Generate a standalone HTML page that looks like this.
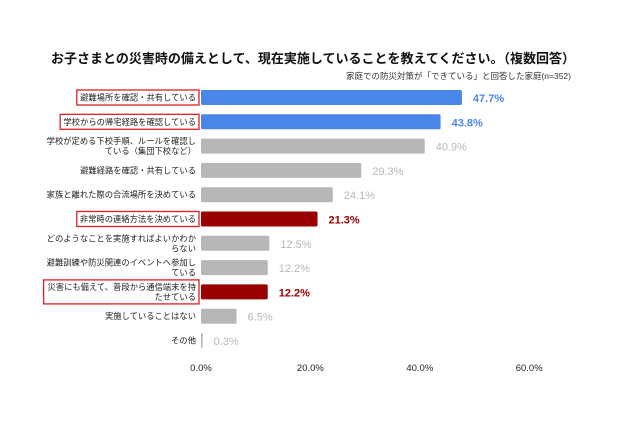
<!DOCTYPE html>
<html><head><meta charset="utf-8"><style>
body{margin:0;background:#fff;}
svg{display:block;font-family:"Liberation Sans","Noto Sans CJK JP",sans-serif;}
</style></head><body>
<svg id="chart" width="640" height="426">
<text x="313" y="63" text-anchor="middle" font-size="13" font-weight="bold" fill="#111">お子さまとの災害時の備えとして、現在実施していることを教えてください。（複数回答）</text>
<text x="571" y="79" text-anchor="end" font-size="8.5" fill="#333">家庭での防災対策が「できている」と回答した家庭(n=352)</text>
<g id="bars"></g>
<g id="axis"></g>
</svg>
<script>
const categories=[["避難場所を確認・共有している"],["学校からの帰宅経路を確認している"],["学校が定める下校手順、ルールを確認し","ている（集団下校など）"],["避難経路を確認・共有している"],["家族と離れた際の合流場所を決めている"],["非常時の連絡方法を決めている"],["どのようなことを実施すればよいかわか","らない"],["避難訓練や防災関連のイベントへ参加し","ている"],["災害にも備えて、普段から通信端末を持","たせている"],["実施していることはない"],["その他"]];
const values=[47.7,43.8,40.9,29.3,24.1,21.3,12.5,12.2,12.2,6.5,0.3];
const kinds=["blue","blue","gray","gray","gray","red","gray","gray","red","gray","gray"];
const ticks=[0,20,40,60];
const ns="http://www.w3.org/2000/svg";
const x0=201,k=5.47,y0=97.5,step=24.3,bh=15;
const xs=v=>x0+v*k, ys=i=>y0+i*step;
const fills={blue:"#4a86e8",gray:"#b7b7b7",red:"#990000"};
const tcol={blue:"#4a86e8",gray:"#b7b7b7",red:"#990000"};
const g=document.getElementById("bars");
function mk(t,a){const e=document.createElementNS(ns,t);for(const q in a)e.setAttribute(q,a[q]);return e;}
categories.forEach((c,i)=>{
 const y=ys(i),kd=kinds[i];
 const r=mk("rect",{x:x0,y:y-bh/2,width:Math.max(1,xs(values[i])-x0),height:bh,rx:1.5,fill:fills[kd]});
 
 
 g.appendChild(r);
 const vt=mk("text",{x:xs(values[i])+11,y:y+4.5,"font-size":11,fill:tcol[kd],"font-weight":kd=="gray"?"normal":"bold"});
 vt.textContent=values[i].toFixed(1)+"%";
 
 
 g.appendChild(vt);
 const lt=mk("text",{x:196,"text-anchor":"end","font-size":8.3,fill:"#222"});
 
 
 const n=c.length;
 c.forEach((s,j)=>{const ts=mk("tspan",{x:196,y:y+3+(j-(n-1)/2)*10});ts.textContent=s;lt.appendChild(ts);});
 g.appendChild(lt);
 if(kd!=="gray"){
  const w=n==1?(c[0].length*8.3+6):(c[0].length*8.3+6);
  const b=mk("rect",{x:196-w+3,y:y-(n==1?7.5:12),width:w,height:n==1?15:24,fill:"none",stroke:"#e02020","stroke-width":1.3});
  
  
  g.appendChild(b);
 }
});
const ax=document.getElementById("axis");
ticks.forEach(t=>{
 const tt=mk("text",{x:xs(t),y:371,"text-anchor":"middle","font-size":9.5,fill:"#222"});
 tt.textContent=t.toFixed(1)+"%";
 
 
 ax.appendChild(tt);
});
</script>
</body></html>
